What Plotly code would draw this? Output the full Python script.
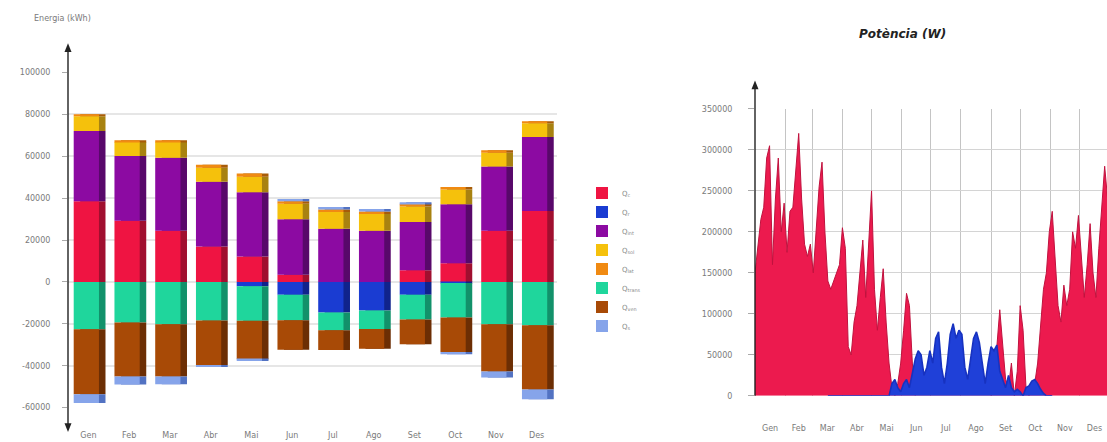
import plotly.graph_objects as go

# ---------------- Monthly energy balance (kWh) ----------------
months = ["Gen", "Feb", "Mar", "Abr", "Mai", "Jun", "Jul", "Ago", "Set", "Oct", "Nov", "Des"]

q_c = [38600, 29200, 24500, 16900, 12200, 3500, 0, 0, 5600, 8900, 24500, 33900]
q_r = [0, 0, 0, 0, -2000, -6100, -14600, -13600, -6100, -500, 0, 0]
q_int = [33500, 31000, 34800, 31000, 30600, 26400, 25400, 24500, 23000, 28200, 30600, 35300]
q_sol = [7000, 6600, 7500, 6600, 7500, 7500, 8000, 8000, 7500, 7000, 6600, 6600]
q_lat = [1000, 900, 900, 1500, 1500, 1200, 1200, 1200, 1200, 1200, 1200, 1000]
q_trans = [-22600, -19300, -20200, -18400, -16500, -12200, -8500, -8900, -11800, -16500, -20200, -20700]
q_ven = [-31000, -25900, -24900, -21200, -18400, -14100, -9400, -9400, -11800, -16500, -22600, -30600]
q_s = [-4200, -3800, -3800, -1000, -800, 1000, 1200, 1200, 800, -1000, -2800, -4700]

series_names = ["Q<sub>c</sub>", "Q<sub>r</sub>", "Q<sub>int</sub>", "Q<sub>sol</sub>",
                "Q<sub>lat</sub>", "Q<sub>trans</sub>", "Q<sub>ven</sub>", "Q<sub>s</sub>"]
series_vals = [q_c, q_r, q_int, q_sol, q_lat, q_trans, q_ven, q_s]
face_colors = ["#ef1442", "#1a3cd2", "#8c0aa2", "#f5c10c", "#f08a12", "#1fd69c", "#a84a06", "#86a4ea"]
side_colors = ["#a00f2f", "#10238c", "#58086a", "#a88210", "#a85c08", "#12916a", "#6c2e04", "#5272c2"]

y_ticks_left = [-60000, -40000, -20000, 0, 20000, 40000, 60000, 80000, 100000]

# ---------------- Power over the year (W), one value every 3 days ----------------
month_start_day = [0, 31, 59, 90, 120, 151, 181, 212, 243, 273, 304, 334, 365]

heating_w = [
    150000, 185000, 215000, 230000, 290000, 305000, 160000, 240000, 290000, 200000,
    235000, 175000, 225000, 230000, 270000, 320000, 240000, 185000, 170000, 185000,
    150000, 200000, 255000, 285000, 200000, 140000, 130000, 140000, 150000, 160000,
    205000, 180000, 60000, 50000, 90000, 110000, 150000, 190000, 120000, 180000,
    250000, 130000, 80000, 120000, 155000, 90000, 40000, 10000, 0, 15000,
    40000, 80000, 125000, 110000, 40000, 0, 0, 0, 0, 0,
    0, 0, 0, 0, 0, 0, 0, 0, 0, 0,
    0, 0, 0, 0, 0, 0, 0, 0, 0, 0,
    0, 0, 25000, 60000, 105000, 60000, 20000, 10000, 40000, 0,
    30000, 110000, 80000, 10000, 0, 5000, 15000, 40000, 90000, 130000,
    150000, 200000, 225000, 170000, 110000, 90000, 135000, 110000, 130000, 200000,
    180000, 220000, 170000, 120000, 160000, 210000, 150000, 120000, 180000, 230000,
    280000, 240000,
]

cooling_w = [
    None, None, None, None, None, None, None, None, None, None,
    None, None, None, None, None, None, None, None, None, None,
    None, None, None, None, None, 0, 0, 0, 0, 0,
    0, 0, 0, 0, 0, 0, 0, 0, 0, 0,
    0, 0, 0, 0, 0, 0, 0, 15000, 20000, 10000,
    5000, 15000, 20000, 10000, 30000, 45000, 55000, 50000, 25000, 35000,
    55000, 40000, 70000, 78000, 35000, 15000, 40000, 75000, 88000, 70000,
    80000, 75000, 35000, 20000, 45000, 70000, 78000, 65000, 40000, 15000,
    40000, 60000, 55000, 62000, 30000, 20000, 10000, 25000, 10000, 5000,
    8000, 5000, 0, 10000, 12000, 18000, 20000, 15000, 8000, 3000,
    0, 0, 0, None, None, None, None, None, None, None,
    None, None, None, None, None, None, None, None, None, None,
    None, None,
]

y_ticks_right = [0, 50000, 100000, 150000, 200000, 250000, 300000, 350000]

sample_day = [3 * i for i in range(len(heating_w))]
month_mid_day = [(a + b) / 2 for a, b in zip(month_start_day[:-1], month_start_day[1:])]

W, H = 1107, 442


def px_x(p):
    return p / W


def px_y(p):
    return (H - p) / H


fig = go.Figure()

# side faces of the bars (base category axis, drawn underneath)
for name, vals, col in zip(series_names, series_vals, side_colors):
    fig.add_trace(go.Bar(
        x=months, y=vals, name=name, marker=dict(color=col, line=dict(width=0)),
        width=0.62, offset=-0.20, xaxis="x", yaxis="y", showlegend=False,
        hoverinfo="skip",
    ))

# front faces of the bars (overlay category axis, drawn on top)
for name, vals, col in zip(series_names, series_vals, face_colors):
    fig.add_trace(go.Bar(
        x=months, y=vals, name=name, marker=dict(color=col, line=dict(width=0)),
        width=0.62, offset=-0.36, xaxis="x3", yaxis="y",
    ))

# power curves
fig.add_trace(go.Scatter(
    x=sample_day, y=heating_w, mode="lines", fill="tozeroy",
    line=dict(color="#c0123e", width=1), fillcolor="#ec1a4e",
    xaxis="x2", yaxis="y2", showlegend=False, name="Calefacció",
))
fig.add_trace(go.Scatter(
    x=sample_day, y=cooling_w, mode="lines", fill="tozeroy", connectgaps=False,
    line=dict(color="#1732c0", width=1.6), fillcolor="#1f40d8",
    xaxis="x2", yaxis="y2", showlegend=False, name="Refrigeració",
))

tick_font = dict(family="DejaVu Sans", size=8, color="#7a7a7a")

fig.update_layout(
    width=W, height=H,
    margin=dict(l=0, r=0, t=0, b=0),
    paper_bgcolor="white", plot_bgcolor="white",
    barmode="relative", bargap=0.2,
    font=dict(family="DejaVu Sans", color="#555"),
    xaxis=dict(
        domain=[px_x(68), px_x(557)], type="category", categoryorder="array",
        categoryarray=months, showgrid=False, showline=False, zeroline=False,
        ticks="", tickfont=tick_font, ticklabelstandoff=21,
    ),
    xaxis3=dict(
        domain=[px_x(68), px_x(557)], type="category", categoryorder="array",
        categoryarray=months, overlaying="x", visible=False, matches="x",
        anchor="y",
    ),
    yaxis=dict(
        domain=[px_y(412), px_y(70)], range=[-60000, 100000],
        tickvals=y_ticks_left, ticktext=[str(v) for v in y_ticks_left],
        showgrid=True, gridcolor="#e6e6e6", gridwidth=1.5, zeroline=False,
        showline=False, ticks="outside", ticklen=5, tickcolor="#aaaaaa",
        tickfont=tick_font, ticklabelstandoff=10,
    ),
    xaxis2=dict(
        domain=[px_x(755), 1.0], range=[0, 362.4], anchor="y2",
        tickvals=month_mid_day, ticktext=months,
        showgrid=False, zeroline=False, showline=False, ticks="",
        tickfont=tick_font, ticklabelstandoff=26,
        minor=dict(tickvals=month_start_day[1:-1], showgrid=True,
                   gridcolor="#c4c4c4", gridwidth=1, ticks=""),
    ),
    yaxis2=dict(
        domain=[px_y(400), px_y(107)], range=[0, 350000], anchor="x2",
        tickvals=y_ticks_right, ticktext=[str(v) for v in y_ticks_right],
        showgrid=True, gridcolor="#d4d4d4", gridwidth=1, zeroline=False,
        showline=False, ticks="outside", ticklen=6, tickcolor="#aaaaaa",
        tickfont=tick_font, ticklabelstandoff=14,
    ),
    legend=dict(
        x=px_x(582), y=px_y(178), xanchor="left", yanchor="top",
        traceorder="normal", font=dict(family="DejaVu Sans", size=7, color="#8a8a8a"),
        bgcolor="rgba(0,0,0,0)", tracegroupgap=0, itemwidth=30,
    ),
)


def arrow_axis(x, y_tip_top, y_tail, y_tip_bottom=None):
    """Vertical axis line with a triangular head at the top (and optionally bottom)."""
    shapes = [dict(type="line", xref="paper", yref="paper",
                   x0=px_x(x), x1=px_x(x), y0=px_y(y_tip_top + 4),
                   y1=px_y(y_tip_bottom - 4 if y_tip_bottom else y_tail),
                   line=dict(color="#222", width=1.4))]
    shapes.append(dict(type="path", xref="paper", yref="paper",
                       path=f"M {px_x(x - 3.5)} {px_y(y_tip_top + 9)} L {px_x(x)} {px_y(y_tip_top)} "
                            f"L {px_x(x + 3.5)} {px_y(y_tip_top + 9)} Z",
                       fillcolor="#222", line=dict(width=0)))
    if y_tip_bottom:
        shapes.append(dict(type="path", xref="paper", yref="paper",
                           path=f"M {px_x(x - 3.5)} {px_y(y_tip_bottom - 9)} L {px_x(x)} {px_y(y_tip_bottom)} "
                                f"L {px_x(x + 3.5)} {px_y(y_tip_bottom - 9)} Z",
                           fillcolor="#222", line=dict(width=0)))
    return shapes


shapes = arrow_axis(68, 40, 284, 437) + arrow_axis(755, 78, 400)
fig.update_layout(shapes=shapes)

annotations = [
    dict(x=px_x(32), y=px_y(15), xref="paper", yref="paper", text="Energia (kWh)",
         showarrow=False, xanchor="left", yanchor="middle",
         font=dict(family="DejaVu Sans", size=8, color="#7a7a7a")),
    dict(x=px_x(902), y=px_y(31), xref="paper", yref="paper",
         text="<b><i>Potència (W)</i></b>", showarrow=False,
         xanchor="center", yanchor="middle",
         font=dict(family="DejaVu Sans", size=12, color="#222")),
]
fig.update_layout(annotations=annotations)

fig.write_html("out.html")
